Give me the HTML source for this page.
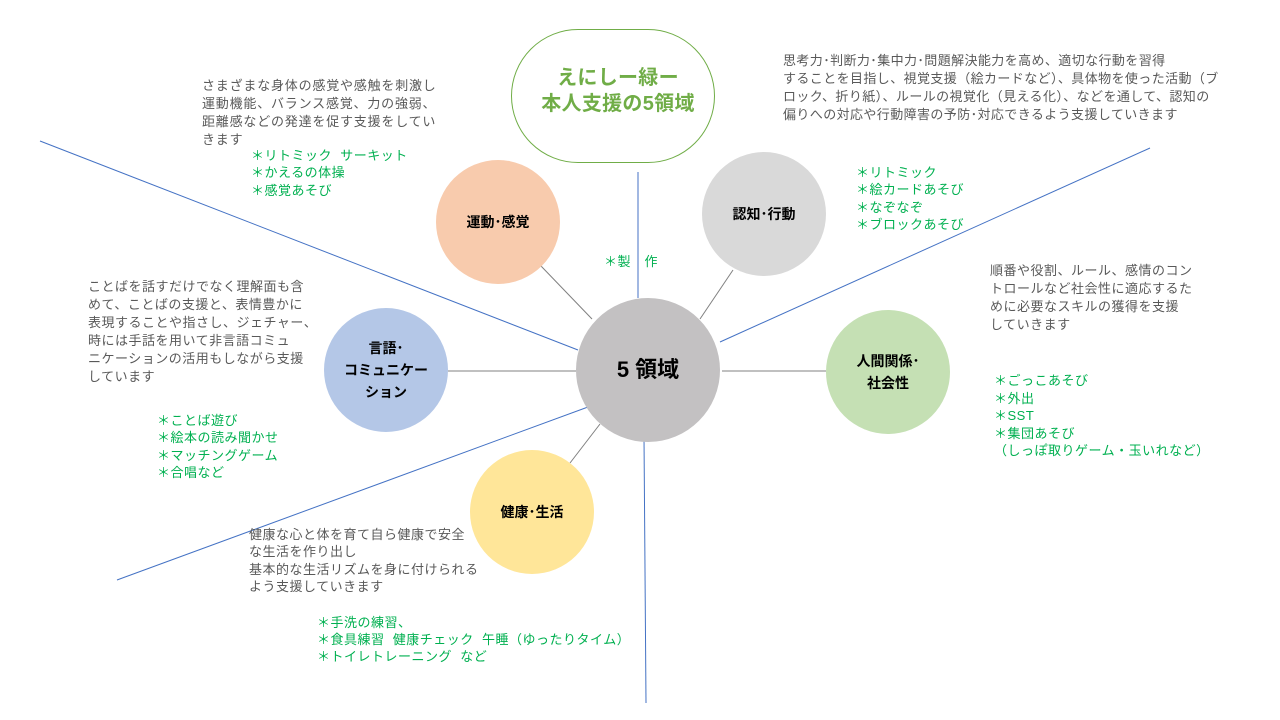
<!DOCTYPE html>
<html><head><meta charset="utf-8"><style>
html,body{margin:0;padding:0;background:#fff;}
body{width:1280px;height:720px;position:relative;overflow:hidden;font-family:"Liberation Sans","Noto Sans CJK JP",sans-serif;}
.t{position:absolute;white-space:pre;font-size:13px;line-height:18px;color:#595959;letter-spacing:0.5px;}
.g{position:absolute;white-space:pre;font-size:13px;line-height:17.3px;color:#00b050;letter-spacing:0.5px;}
.c{position:absolute;border-radius:50%;display:flex;align-items:center;justify-content:center;text-align:center;font-weight:bold;font-size:14px;line-height:22px;color:#000;}
</style></head><body>
<svg width="1280" height="720" style="position:absolute;left:0;top:0">
<g stroke="#4472c4" stroke-width="1" fill="none">
<line x1="40" y1="141" x2="578" y2="350"/>
<line x1="1150" y1="148" x2="720" y2="342"/>
<line x1="117" y1="580" x2="588" y2="407"/>
<line x1="638" y1="172" x2="638" y2="298"/>
<line x1="644" y1="437" x2="646" y2="703"/>
</g>
<g stroke="#808080" stroke-width="1">
<line x1="541" y1="266" x2="592" y2="319"/>
<line x1="733" y1="270" x2="700" y2="319"/>
<line x1="448" y1="371" x2="576" y2="371"/>
<line x1="722" y1="371" x2="826" y2="371"/>
<line x1="570" y1="463" x2="600" y2="424"/>
</g>
</svg>
<div style="position:absolute;left:511px;top:29px;width:202px;height:132px;border:1px solid #70ad47;border-radius:67px;background:#fff;"></div>
<div style="position:absolute;left:505px;top:65px;width:226px;text-align:center;font-size:20px;line-height:26px;font-weight:bold;color:#70ad47;letter-spacing:0.3px;">えにしー緑ー<br>本人支援の5領域</div>

<div class="c" style="left:436px;top:160px;width:124px;height:124px;background:#f8cbad;">運動･感覚</div>
<div class="c" style="left:702px;top:152px;width:124px;height:124px;background:#d9d9d9;">認知･行動</div>
<div class="c" style="left:324px;top:308px;width:124px;height:124px;background:#b4c7e7;">言語･<br>コミュニケー<br>ション</div>
<div class="c" style="left:576px;top:298px;width:144px;height:144px;background:#c3c1c2;font-size:22px;">5 領域</div>
<div class="c" style="left:826px;top:310px;width:124px;height:124px;background:#c5e0b4;">人間関係･<br>社会性</div>
<div class="c" style="left:470px;top:450px;width:124px;height:124px;background:#ffe699;">健康･生活</div>

<div class="t" style="left:202px;top:77px;letter-spacing:0.8px;">さまざまな身体の感覚や感触を刺激し
運動機能、バランス感覚、力の強弱、
距離感などの発達を促す支援をしてい
きます</div>
<div class="g" style="left:251px;top:147px;">＊リトミック  サーキット
＊かえるの体操
＊感覚あそび</div>

<div class="t" style="left:783px;top:52px;letter-spacing:0.4px;">思考力･判断力･集中力･問題解決能力を高め、適切な行動を習得
することを目指し、視覚支援（絵カードなど）、具体物を使った活動（ブ
ロック、折り紙）、ルールの視覚化（見える化）、などを通して、認知の
偏りへの対応や行動障害の予防･対応できるよう支援していきます</div>
<div class="g" style="left:856px;top:164px;">＊リトミック
＊絵カードあそび
＊なぞなぞ
＊ブロックあそび</div>

<div class="t" style="left:88px;top:278px;">ことばを話すだけでなく理解面も含
めて、ことばの支援と、表情豊かに
表現することや指さし、ジェチャー、
時には手話を用いて非言語コミュ
ニケーションの活用もしながら支援
しています</div>
<div class="g" style="left:157px;top:412px;">＊ことば遊び
＊絵本の読み聞かせ
＊マッチングゲーム
＊合唱など</div>

<div class="t" style="left:990px;top:262px;">順番や役割、ルール、感情のコン
トロールなど社会性に適応するた
めに必要なスキルの獲得を支援
していきます</div>
<div class="g" style="left:994px;top:372px;line-height:17.5px;">＊ごっこあそび
＊外出
＊SST
＊集団あそび
（しっぽ取りゲーム・玉いれなど）</div>

<div class="t" style="left:249px;top:526px;line-height:17.3px;">健康な心と体を育て自ら健康で安全
な生活を作り出し
基本的な生活リズムを身に付けられる
よう支援していきます</div>
<div class="g" style="left:317px;top:614px;line-height:17px;">＊手洗の練習、
＊食具練習  健康チェック  午睡（ゆったりタイム）
＊トイレトレーニング  など</div>

<div class="g" style="left:604px;top:253px;">＊製　作</div>
</body></html>
